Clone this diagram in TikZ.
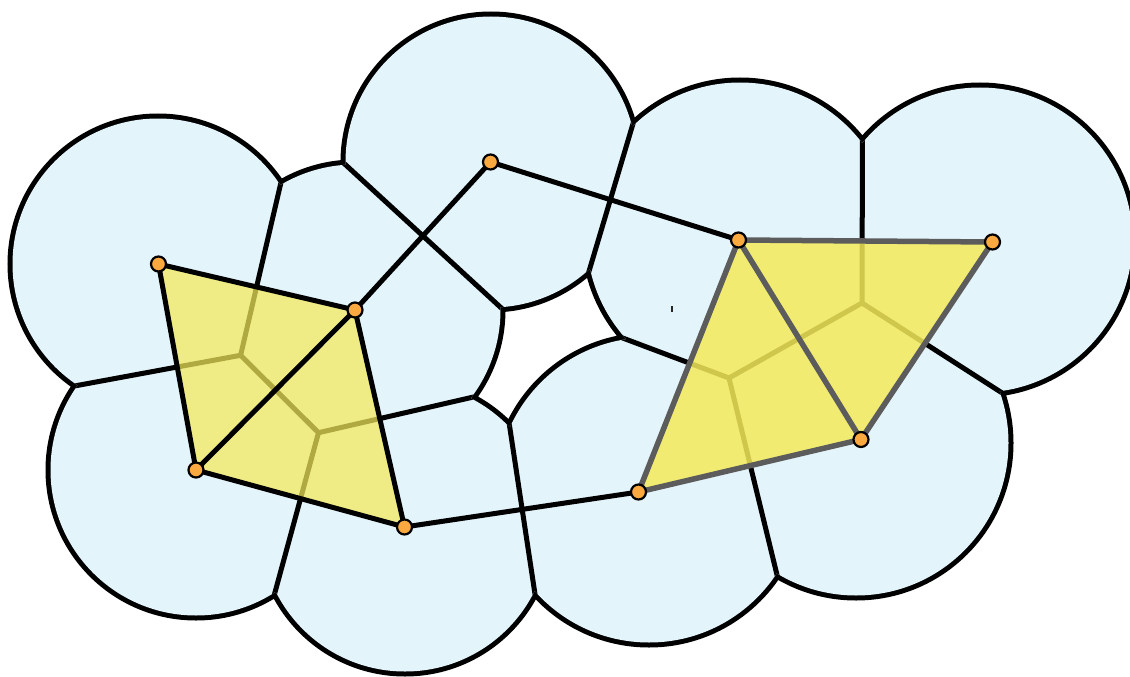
\documentclass[tikz,border=0pt]{standalone}
\definecolor{diskblue}{RGB}{227,244,251}
\definecolor{triyellow}{RGB}{244,234,90}
\definecolor{edgegrey}{RGB}{92,92,92}
\definecolor{dotorange}{RGB}{249,169,64}
\begin{document}
\begin{tikzpicture}[x=1pt,y=-1pt,
  vorline/.style={line width=5pt,black},
  deledge/.style={line width=5pt,black,line cap=round},
  greyedge/.style={line width=5.5pt,edgegrey,line cap=round},
  lefttri/.style={fill=triyellow,fill opacity=0.72},
  righttri/.style={fill=triyellow,fill opacity=0.85},
  ptdot/.style={circle,draw=black,line width=2.2pt,fill=dotorange,minimum size=15pt,inner sep=0pt}]
\useasboundingbox (0,0) rectangle (1130,677);
\def\myDisks{(158,264) circle[radius=145.5pt]
  (196,470) circle[radius=145.5pt]
  (405,527) circle[radius=144.5pt]
  (355,310) circle[radius=145.5pt]
  (491,162) circle[radius=145.5pt]
  (740,236) circle[radius=153.5pt]
  (980,240) circle[radius=152.5pt]
  (856,443) circle[radius=152.5pt]
  (649,490) circle[radius=152.5pt]}
% points
\coordinate (p1) at (158.5,264);
\coordinate (p2) at (355,310);
\coordinate (p3) at (196,470);
\coordinate (p4) at (404.5,527);
\coordinate (p5) at (490.5,162);
\coordinate (p6) at (738.5,240);
\coordinate (p7) at (992.5,242);
\coordinate (p8) at (861,439.5);
\coordinate (p9) at (638.5,492);
% Voronoi vertices and free ends
\coordinate (v1) at (240.6,355.3);
\coordinate (v2) at (318.5,432.7);
\coordinate (v3) at (862,303);
\coordinate (v4) at (729,378);
\coordinate (e13) at (53.8,389.8);
\coordinate (e12) at (286.1,160.5);
\coordinate (e34) at (265.9,625.7);
\coordinate (e24) at (513.4,387.8);
\coordinate (e25a) at (331,151.4);
\coordinate (e25b) at (515,320.6);
\coordinate (e56a) at (584.2,287.4);
\coordinate (e56b) at (637.8,107.6);
\coordinate (e49a) at (506.9,408.4);
\coordinate (e49b) at (537.4,610);
\coordinate (e67) at (862.5,125);
\coordinate (e78) at (1012.8,399.8);
\coordinate (e69) at (610.2,333.3);
\coordinate (e89) at (780.3,588.4);
% union of disks
\draw[line width=10pt] \myDisks;
\fill[diskblue] \myDisks;
% Voronoi edges restricted to the union
\begin{scope}
\clip \myDisks;
\draw[vorline] (e13) -- (v1) -- (e12);
\draw[vorline] (v1) -- (v2);
\draw[vorline] (e34) -- (v2) -- (e24);
\draw[vorline] (e25a) -- (e25b);
\draw[vorline] (e56a) -- (e56b);
\draw[vorline] (e49a) -- (e49b);
\draw[vorline] (e67) -- (v3) -- (e78);
\draw[vorline] (v3) -- (v4);
\draw[vorline] (e69) -- (v4) -- (e89);
\end{scope}
\draw[line width=1.8pt,black!85] (672,306) -- (672,312);
% triangles
\fill[lefttri] (p1) -- (p2) -- (p3) -- cycle;
\fill[lefttri] (p2) -- (p3) -- (p4) -- cycle;
\fill[righttri] (p6) -- (p8) -- (p9) -- cycle;
\fill[righttri] (p6) -- (p7) -- (p8) -- cycle;
% edges
\draw[deledge] (p1) -- (p2);
\draw[deledge] (p1) -- (p3);
\draw[deledge] (p2) -- (p3);
\draw[deledge] (p2) -- (p4);
\draw[deledge] (p3) -- (p4);
\draw[deledge] (p2) -- (p5);
\draw[deledge] (p5) -- (p6);
\draw[deledge] (p4) -- (p9);
\draw[greyedge] (p6) -- (p7);
\draw[greyedge] (p6) -- (p8);
\draw[greyedge] (p7) -- (p8);
\draw[greyedge] (p8) -- (p9);
\draw[greyedge] (p9) -- (p6);
% dots
\foreach \i in {1,...,9} { \node[ptdot] (d\i) at (p\i) {}; }
\end{tikzpicture}
\end{document}
